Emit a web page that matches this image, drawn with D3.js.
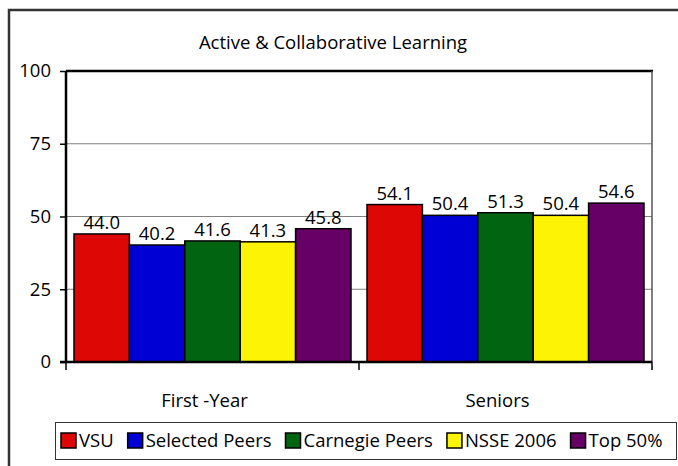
<!DOCTYPE html>
<html>
<head>
<meta charset="utf-8">
<script src="https://cdn.jsdelivr.net/npm/d3@7"></script>
<style>
  body { margin: 0; background: #fff; }
  text { font-family: "Open Sans", sans-serif; fill: #000; }
</style>
</head>
<body>
<script>
var categories = [ "First -Year", "Seniors" ];
var seriesNames = [ "VSU", "Selected Peers", "Carnegie Peers", "NSSE 2006", "Top 50%" ];
var seriesColors = [ "#dd0806", "#0000d4", "#006411", "#fcf305", "#660066" ];
var firstYearValues = [ 44.0, 40.2, 41.6, 41.3, 45.8 ];
var seniorValues = [ 54.1, 50.4, 51.3, 50.4, 54.6 ];
var yTicks = [ 0, 25, 50, 75, 100 ];

var values = [ firstYearValues, seniorValues ];

var W = 678, H = 466;
var plotL = 66, plotR = 652, plotT = 71, plotB = 362;
var fs = "18.5px";

var svg = d3.select( "body" ).append( "svg" )
  .attr( "width", W )
  .attr( "height", H );

// outer frame (runs off the right and bottom edge)
svg.append( "rect" )
  .attr( "x", 9 ).attr( "y", 10 )
  .attr( "width", 700 ).attr( "height", 500 )
  .attr( "fill", "none" )
  .attr( "stroke", "#333" )
  .attr( "stroke-width", 2.5 );

svg.append( "text" )
  .attr( "x", 333 ).attr( "y", 49 )
  .attr( "text-anchor", "middle" )
  .attr( "font-size", fs )
  .text( "Active & Collaborative Learning" );

var y = d3.scaleLinear().domain( [ 0, 100 ] ).range( [ plotB, plotT ] );
var x0 = d3.scaleBand().domain( categories ).range( [ plotL, plotR ] );
var x1 = d3.scaleBand().domain( seriesNames ).range( [ 8, x0.bandwidth() - 8 ] );

// gridlines
svg.selectAll( "line.grid" )
  .data( yTicks.filter( function ( d ) { return d > 0 && d < 100; } ) )
  .enter().append( "line" )
  .attr( "class", "grid" )
  .attr( "x1", plotL ).attr( "x2", plotR )
  .attr( "y1", function ( d ) { return y( d ); } )
  .attr( "y2", function ( d ) { return y( d ); } )
  .attr( "stroke", "#808080" )
  .attr( "stroke-width", 1 );

// plot frame: top, right
svg.append( "line" )
  .attr( "x1", plotL ).attr( "x2", plotR + 1 )
  .attr( "y1", plotT ).attr( "y2", plotT )
  .attr( "stroke", "#000" ).attr( "stroke-width", 2.5 );
svg.append( "line" )
  .attr( "x1", plotR ).attr( "x2", plotR )
  .attr( "y1", plotT ).attr( "y2", plotB )
  .attr( "stroke", "#555" ).attr( "stroke-width", 1.5 );

// bars
var groups = svg.selectAll( "g.cat" )
  .data( categories )
  .enter().append( "g" )
  .attr( "class", "cat" )
  .attr( "transform", function ( d ) { return "translate(" + x0( d ) + ",0)"; } );

groups.selectAll( "rect" )
  .data( function ( d, i ) { return values[ i ]; } )
  .enter().append( "rect" )
  .attr( "x", function ( d, i ) { return x1( seriesNames[ i ] ); } )
  .attr( "width", x1.bandwidth() )
  .attr( "y", function ( d ) { return y( d ); } )
  .attr( "height", function ( d ) { return plotB - y( d ); } )
  .attr( "fill", function ( d, i ) { return seriesColors[ i ]; } )
  .attr( "stroke", "#000" )
  .attr( "stroke-width", 1.5 );

groups.selectAll( "text.val" )
  .data( function ( d, i ) { return values[ i ]; } )
  .enter().append( "text" )
  .attr( "class", "val" )
  .attr( "x", function ( d, i ) { return x1( seriesNames[ i ] ) + x1.bandwidth() / 2; } )
  .attr( "y", function ( d ) { return y( d ) - 5; } )
  .attr( "text-anchor", "middle" )
  .attr( "font-size", fs )
  .text( function ( d ) { return d.toFixed( 1 ); } );

// y axis
var yAxis = svg.append( "g" )
  .attr( "transform", "translate(" + plotL + ",0)" )
  .call( d3.axisLeft( y ).tickValues( yTicks ).tickSize( 6 ).tickPadding( 9 ) );
yAxis.select( ".domain" ).attr( "stroke", "#000" ).attr( "stroke-width", 2.5 )
  .attr( "d", "M0," + plotT + "V" + plotB );
yAxis.selectAll( ".tick line" ).attr( "stroke-width", 1.5 );
yAxis.selectAll( "text" )
  .style( "font-family", "'Open Sans', sans-serif" )
  .attr( "font-size", fs ).attr( "fill", "#000" );

// x axis
var xAxis = svg.append( "g" )
  .attr( "transform", "translate(0," + plotB + ")" );
xAxis.append( "line" )
  .attr( "x1", plotL - 6 ).attr( "x2", plotR )
  .attr( "y1", 0 ).attr( "y2", 0 )
  .attr( "stroke", "#000" ).attr( "stroke-width", 2.5 );
xAxis.selectAll( "line.tick" )
  .data( [ plotL, plotL + x0.bandwidth(), plotR ] )
  .enter().append( "line" )
  .attr( "class", "tick" )
  .attr( "x1", function ( d ) { return d; } )
  .attr( "x2", function ( d ) { return d; } )
  .attr( "y1", 0 ).attr( "y2", 8 )
  .attr( "stroke", "#000" ).attr( "stroke-width", 1.5 );
xAxis.selectAll( "text" )
  .data( categories )
  .enter().append( "text" )
  .attr( "x", function ( d ) { return x0( d ) + x0.bandwidth() / 2 - 8; } )
  .attr( "y", 45 )
  .attr( "text-anchor", "middle" )
  .attr( "font-size", fs )
  .text( function ( d ) { return d; } );

// legend
svg.append( "rect" )
  .attr( "x", 55.5 ).attr( "y", 422.5 )
  .attr( "width", 621 ).attr( "height", 37 )
  .attr( "fill", "#fff" )
  .attr( "stroke", "#333" )
  .attr( "stroke-width", 1 );

var legend = svg.append( "g" );
var lx = 61;
seriesNames.forEach( function ( name, i ) {
  var item = legend.append( "g" ).attr( "transform", "translate(" + lx + ",0)" );
  item.append( "rect" )
    .attr( "x", 0 ).attr( "y", 433 )
    .attr( "width", 15 ).attr( "height", 15 )
    .attr( "fill", seriesColors[ i ] )
    .attr( "stroke", "#000" )
    .attr( "stroke-width", 1.5 );
  var t = item.append( "text" )
    .attr( "x", 18 ).attr( "y", 447 )
    .attr( "font-size", fs )
    .text( name );
  lx += 18 + t.node().getComputedTextLength() + 14;
} );
</script>
</body>
</html>
